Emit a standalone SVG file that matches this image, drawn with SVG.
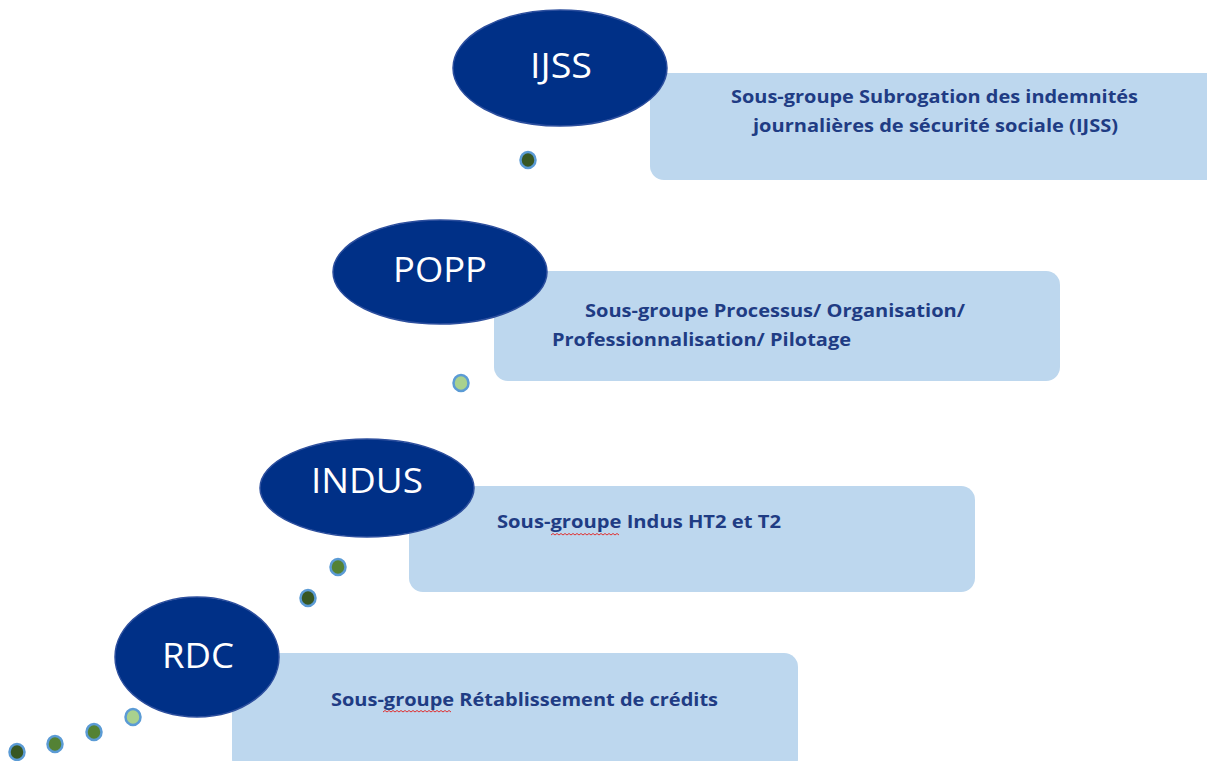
<svg xmlns="http://www.w3.org/2000/svg" width="1207" height="761" viewBox="0 0 1207 761">
<defs>
<style>
.oval{fill:#003087;stroke:#2d4f9e;stroke-width:1.5}
.lbl{font-family:"Open Sans","Noto Sans",sans-serif;font-size:34px;fill:#ffffff;text-anchor:middle}
.box{fill:#bdd7ee}
.txt{font-family:"Open Sans","Noto Sans",sans-serif;font-weight:bold;font-size:17.5px;fill:#1f3c84}
.dot{stroke:#5b9bd5;stroke-width:2.5}
.dk{fill:#385723}.md{fill:#548235}.lt{fill:#a9d18e}
.wave{fill:none;stroke:#e03030;stroke-width:1}
</style>
</defs>
<rect width="1207" height="761" fill="#ffffff"/>
<g id="connectors">
<ellipse class="dot dk" cx="528" cy="160" rx="7.5" ry="8"/>
<ellipse class="dot lt" cx="461" cy="383" rx="7.5" ry="8"/>
<ellipse class="dot md" cx="338" cy="567" rx="7.5" ry="8"/>
<ellipse class="dot dk" cx="308" cy="598" rx="7.5" ry="8"/>
<ellipse class="dot lt" cx="133" cy="717" rx="7.5" ry="8"/>
<ellipse class="dot md" cx="94" cy="732" rx="7.5" ry="8"/>
<ellipse class="dot md" cx="55" cy="744" rx="7.5" ry="8"/>
<ellipse class="dot dk" cx="17" cy="752" rx="7.5" ry="8"/>
</g>
<g id="ijss">
<rect class="box" x="650" y="73" width="575" height="107" rx="14"/>
<ellipse class="oval" cx="560" cy="68" rx="107" ry="58"/>
<text class="lbl" x="561" y="78" textLength="62" lengthAdjust="spacingAndGlyphs">IJSS</text>
<text class="txt" x="731" y="103" textLength="407" lengthAdjust="spacingAndGlyphs">Sous-groupe Subrogation des indemnités</text>
<text class="txt" x="753" y="132" textLength="365" lengthAdjust="spacingAndGlyphs">journalières de sécurité sociale (IJSS)</text>
</g>
<g id="popp">
<rect class="box" x="494" y="271" width="566" height="110" rx="14"/>
<ellipse class="oval" cx="440" cy="272" rx="107" ry="52"/>
<text class="lbl" x="440" y="282" textLength="94" lengthAdjust="spacingAndGlyphs">POPP</text>
<text class="txt" x="585" y="317" textLength="380" lengthAdjust="spacingAndGlyphs">Sous-groupe Processus/ Organisation/</text>
<text class="txt" x="552" y="346" textLength="299" lengthAdjust="spacingAndGlyphs">Professionnalisation/ Pilotage</text>
</g>
<g id="indus">
<rect class="box" x="409" y="486" width="566" height="106" rx="14"/>
<ellipse class="oval" cx="367" cy="488" rx="107" ry="49"/>
<text class="lbl" x="367" y="493" textLength="112" lengthAdjust="spacingAndGlyphs">INDUS</text>
<text class="txt" x="497" y="528" textLength="284" lengthAdjust="spacingAndGlyphs">Sous-groupe Indus HT2 et T2</text>
<path class="wave" d="M551 535 l2 -1.5 l2 1.5 l2 -1.5 l2 1.5 l2 -1.5 l2 1.5 l2 -1.5 l2 1.5 l2 -1.5 l2 1.5 l2 -1.5 l2 1.5 l2 -1.5 l2 1.5 l2 -1.5 l2 1.5 l2 -1.5 l2 1.5 l2 -1.5 l2 1.5 l2 -1.5 l2 1.5 l2 -1.5 l2 1.5 l2 -1.5 l2 1.5 l2 -1.5 l2 1.5 l2 -1.5 l2 1.5 l2 -1.5 l2 1.5 l2 -1.5 l2 1.5"/>
</g>
<g id="rdc">
<rect class="box" x="232" y="653" width="566" height="120" rx="14"/>
<ellipse class="oval" cx="197" cy="657" rx="82" ry="60"/>
<text class="lbl" x="198" y="668" textLength="72" lengthAdjust="spacingAndGlyphs">RDC</text>
<text class="txt" x="331" y="706" textLength="387" lengthAdjust="spacingAndGlyphs">Sous-groupe Rétablissement de crédits</text>
<path class="wave" d="M383 712 l2 -1.5 l2 1.5 l2 -1.5 l2 1.5 l2 -1.5 l2 1.5 l2 -1.5 l2 1.5 l2 -1.5 l2 1.5 l2 -1.5 l2 1.5 l2 -1.5 l2 1.5 l2 -1.5 l2 1.5 l2 -1.5 l2 1.5 l2 -1.5 l2 1.5 l2 -1.5 l2 1.5 l2 -1.5 l2 1.5 l2 -1.5 l2 1.5 l2 -1.5 l2 1.5 l2 -1.5 l2 1.5 l2 -1.5 l2 1.5 l2 -1.5 l2 1.5"/>
</g>
</svg>
